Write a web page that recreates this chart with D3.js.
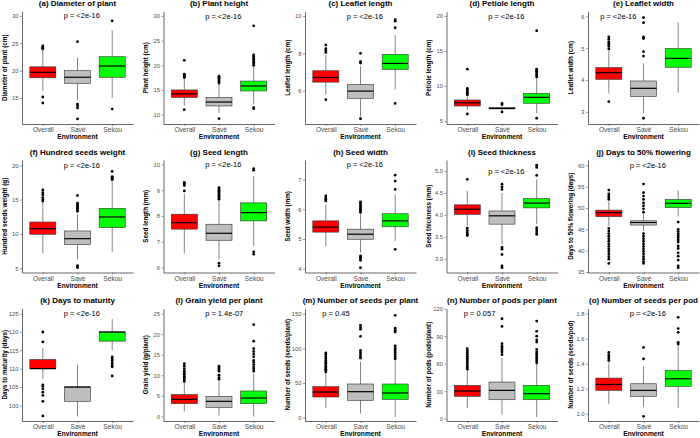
<!DOCTYPE html>
<html><head><meta charset="utf-8">
<script src="https://cdn.jsdelivr.net/npm/d3@7"></script>
<style>
html,body{margin:0;padding:0;background:#fff;}
svg{display:block;font-family:"Liberation Sans",Arial,sans-serif;}
</style></head>
<body>
<svg id="chart" width="700" height="438"></svg>
<script>
const categories = ["Overall", "Savè", "Sekou"];
const boxColors = ["#FF0000", "#BEBEBE", "#00FF00"];
const xTitle = "Environment";

const panelTitles = ["(a) Diameter of plant", "(b) Plant height", "(c) Leaflet length", "(d) Petiole length", "(e) Leaflet width",
  "(f) Hundred seeds weight", "(g) Seed length", "(h) Seed width", "(i) Seed thickness", "(j) Days to 50% flowering",
  "(k) Days to maturity", "(l) Grain yield per plant", "(m) Number of seeds per plant", "(n) Number of pods per plant", "(o) Number of seeds per pod"];

const yTitles = ["Diameter of plant (cm)", "Plant height (cm)", "Leaflet length (cm)", "Petiole length (cm)", "Leaflet width (cm)",
  "Hundred seeds weight (g)", "Seed length (mm)", "Seed width (mm)", "Seed thickness (mm)", "Days to 50% flowering (days)",
  "Days to maturity (days)", "Grain yield (g/plant)", "Number of seeds (seeds/plant)", "Number of pods (pods/plant)", "Number of seeds (seeds/pod)"];

const pTexts = ["p = <2e-16", "p = <2e-16", "p = <2e-16", "p = <2e-16", "p = <2e-16",
  "p = <2e-16", "p = <2e-16", "p = <2e-16", "p = <2e-16", "p = <2e-16",
  "p = <2e-16", "p = 1.4e-07", "p = 0.45", "p = 0.057", "p = <2e-16"];
const pLabelX = [1.6, 1.6, 1.6, 1.6, 0.75, 1.6, 1.6, 1.6, 1.6, 1.6, 1.6, 1.6, 0.9, 0.9, 1.6];
const pLabelY = [30, 30, 10, 20, 6, 20, 10, 7.5, 5, 60, 125, 25, 150, 115, 1.8];

const yTicks = [[15, 20, 25, 30], [10, 15, 20, 25, 30], [6, 8, 10], [5, 10, 15, 20], [3, 4, 5, 6],
  [5, 10, 15, 20], [6, 7, 8, 9, 10], [4, 5, 6, 7], [3.0, 3.5, 4.0, 4.5, 5.0], [35, 40, 45, 50, 55, 60],
  [100, 105, 110, 115, 120, 125], [0, 5, 10, 15, 20, 25], [0, 50, 100, 150], [0, 30, 60, 90, 120], [1.0, 1.2, 1.4, 1.6, 1.8]];
const yTickFormats = ["d", "d", "d", "d", "d", "d", "d", "d", ".1f", "d", "d", "d", "d", "d", ".1f"];
const yDomains = [[10.27, 30.8], [8.1, 30.9], [4.22, 10.24], [4.57, 20.64], [2.62, 6.15],
  [4.4, 20.76], [5.81, 10.17], [3.87, 7.66], [2.69, 5.25], [34.88, 61.25],
  [95.74, 126.4], [-1.14, 26.25], [-4.8, 157.5], [-2.5, 120.2], [0.943, 1.84]];

// [lower whisker, Q1, median, Q3, upper whisker] for Overall, Savè, Sekou
const boxStats = [
  [[16.4, 18.7, 19.7, 20.7, 23.8], [14.6, 17.7, 18.8, 20.0, 22.4], [15.0, 18.8, 20.85, 22.55, 27.4]],
  [[11.8, 13.5, 14.2, 15.0, 17.3], [10.4, 11.75, 12.55, 13.5, 16.2], [12.1, 14.8, 15.8, 16.8, 19.8]],
  [[5.8, 6.46, 6.71, 7.07, 7.9], [4.62, 5.59, 5.98, 6.34, 7.3], [6.07, 7.14, 7.46, 7.95, 8.98]],
  [[6.55, 7.14, 7.6, 8.0, 8.5], [6.55, 6.72, 6.8, 6.92, 7.1], [6.1, 7.53, 8.38, 8.95, 11.1]],
  [[3.58, 4.02, 4.23, 4.39, 4.9], [2.96, 3.48, 3.74, 3.97, 4.52], [3.6, 4.4, 4.68, 4.99, 5.8]],
  [[7.2, 9.96, 10.77, 11.74, 14.6], [6.3, 8.45, 9.32, 10.44, 12.9], [7.4, 10.92, 12.47, 13.73, 17.6]],
  [[6.55, 7.49, 7.74, 8.07, 8.85], [6.32, 7.06, 7.33, 7.68, 8.6], [6.84, 7.81, 8.13, 8.51, 9.55]],
  [[4.76, 5.23, 5.4, 5.61, 6.15], [4.54, 4.99, 5.16, 5.33, 5.85], [4.93, 5.41, 5.61, 5.85, 6.5]],
  [[3.75, 4.01, 4.13, 4.23, 4.55], [3.33, 3.79, 3.98, 4.09, 4.5], [3.79, 4.16, 4.27, 4.37, 4.81]],
  [[45.8, 47.97, 48.9, 49.5, 51.5], [44.6, 46.0, 46.6, 47.0, 48.5], [48.0, 50.1, 51.1, 52.0, 54.1]],
  [[107.3, 110, 110, 112.5, 115.6], [97, 101.1, 105, 105, 111.1], [115, 117.5, 120, 120, 123.5]],
  [[1.2, 3.08, 4.14, 5.28, 8.2], [0.2, 2.19, 3.65, 4.87, 8.6], [0, 3.08, 4.46, 6.17, 10.4]],
  [[13.9, 29.8, 37, 44.7, 64.4], [5.8, 25, 37.5, 48.6, 80.3], [1, 26.4, 35.6, 48.6, 82.7]],
  [[11.6, 24.4, 30.2, 36.4, 52.7], [4.4, 20.7, 30.9, 40, 66], [1.8, 20.7, 27.3, 36.4, 60]],
  [[1.08, 1.187, 1.234, 1.285, 1.41], [1.054, 1.14, 1.187, 1.24, 1.38], [1.046, 1.219, 1.28, 1.346, 1.544]]
];

const outliers = [
  [[24.0, 24.1, 24.2, 24.3, 24.5, 15.2, 14.1], [25.3, 13.9, 13.6, 13.2, 11.2], [29.1, 13.0]],
  [[17.5, 17.7, 17.9, 18.1, 18.2, 21.0, 11.0], [16.4, 16.7, 17.0, 17.3, 17.6, 17.8, 9.2], [20.0, 20.3, 20.6, 20.9, 21.2, 21.5, 21.8, 22.1, 28.0, 11.4, 11.2]],
  [[8.05, 8.15, 8.25, 8.45, 5.52], [7.48, 7.55, 8.0, 4.5], [9.37, 9.72, 9.8, 5.32]],
  [[8.75, 8.9, 9.1, 9.3, 9.5, 9.65, 12.4, 6.0], [7.35, 7.5, 6.3], [11.3, 11.5, 11.7, 11.9, 12.1, 12.3, 12.4, 17.9, 5.39]],
  [[4.97, 5.05, 5.1, 5.15, 5.2, 5.28, 5.35, 3.32], [4.75, 4.89, 5.3, 5.35, 5.8, 5.96, 2.8], []],
  [[14.8, 15.0, 15.3, 15.7, 16.0, 16.4], [13.3, 13.5, 13.7, 13.9, 14.1, 14.3, 14.5, 15.6, 5.4, 5.2, 5.1], [17.9, 18.0, 18.1, 18.2, 18.35, 19.1]],
  [[8.97, 9.18, 9.22, 9.27, 9.3], [8.65, 8.7, 8.75, 8.8, 8.85, 8.9, 8.95, 9.0, 9.05, 9.1, 6.17, 6.07], [9.77, 9.83, 6.61, 6.52]],
  [[6.28, 6.33, 6.38, 6.45], [5.9, 5.95, 6.0, 6.05, 6.1, 6.15, 6.2, 6.25, 4.43, 4.38, 4.33, 4.28, 4.03], [6.67, 6.95, 7.15, 4.65]],
  [[4.81, 3.7, 3.65, 3.6, 3.56, 3.53], [4.58, 4.64, 4.7, 3.26, 3.22, 3.1, 2.84, 2.8], [4.9, 5.08, 5.13, 3.71, 3.66, 3.61, 3.56]],
  [[52.0, 52.4, 52.8, 53.3, 54.2, 45.2, 44.6, 44.0, 43.4, 42.8, 42.2, 41.6, 41.0, 40.4, 39.8, 39.2, 38.6, 38.0, 37.0],
   [49.0, 49.8, 50.5, 51.2, 52.0, 52.8, 53.6, 55.6, 44.0, 43.4, 42.8, 42.2, 41.6, 41.0, 40.4, 39.8, 39.2, 38.6, 38.0, 37.4, 37.0],
   [46.7, 45.0, 44.5, 44.0, 43.5, 43.0, 42.5, 42.0, 41.1, 40.5, 39.5, 38.7, 37.8, 36.4, 36.0]],
  [[117.3, 120, 105.6, 105.2, 104.5, 103.6, 102.7, 101.1, 97.1], [], [113.2, 112.7, 112.2, 111.6, 111, 110.5, 108]],
  [[8.5, 8.9, 9.3, 9.7, 10.1, 10.5, 11.0, 11.6, 12.2, 12.8], [9.0, 9.4, 10.0, 11.0, 11.4, 11.8, 12.2], [11.0, 11.5, 12.0, 12.6, 13.2, 13.6, 14.5, 15.2, 15.8, 16.5, 18.3, 22.3]],
  [[66, 68, 70, 72, 74, 76, 78, 80, 82, 85, 88, 91, 93.3], [86, 88, 91, 94, 97, 117.3, 127.4, 130, 133.2], [85, 88, 91, 94, 97, 100, 103.4, 123.6, 126, 129, 147.6]],
  [[54, 56, 58, 60, 62, 64, 66, 68, 70, 72, 74, 76.4], [69.8, 72.7, 75, 77, 79, 81.8, 100.7, 109], [61, 63, 65, 67, 69, 71, 73, 75.6, 83.6, 86, 90, 95.3, 106.5]],
  [[1.425, 1.44, 1.455, 1.47, 1.49], [1.438, 1.53, 0.98], [1.557, 1.57, 1.65, 1.68, 1.77]]
];

// ---- layout ----
const cellW = 141.5, cellH = 148.5, gridTop = -1.5;
const pad = {left: 22, right: 133, top: 13, bottom: 125.5};
const svg = d3.select("#chart");

panelTitles.forEach((title, i) => {
  const col = i % 5, row = Math.floor(i / 5);
  const g = svg.append("g").attr("transform", `translate(${col * cellW},${gridTop + row * cellH})`);
  const x = d3.scaleLinear().domain([0.4, 3.6]).range([pad.left, pad.right]);
  const y = d3.scaleLinear().domain(yDomains[i]).range([pad.bottom, pad.top]);
  const bw = (x(1.75) - x(1));

  // title
  g.append("text").attr("x", (pad.left + pad.right) / 2).attr("y", 7.5)
    .attr("text-anchor", "middle").attr("font-size", 8).attr("font-weight", "bold").attr("fill", "#000").text(title);

  // boxes
  boxStats[i].forEach((s, k) => {
    const cx = x(k + 1);
    const bg = g.append("g");
    bg.append("line").attr("x1", cx).attr("x2", cx).attr("y1", y(s[4])).attr("y2", y(s[3]))
      .attr("stroke", "#333").attr("stroke-width", 0.6);
    bg.append("line").attr("x1", cx).attr("x2", cx).attr("y1", y(s[1])).attr("y2", y(s[0]))
      .attr("stroke", "#333").attr("stroke-width", 0.6);
    bg.append("rect").attr("x", cx - bw / 2).attr("width", bw)
      .attr("y", y(s[3])).attr("height", Math.max(0.5, y(s[1]) - y(s[3])))
      .attr("fill", boxColors[k]).attr("stroke", "#333").attr("stroke-width", 0.6);
    bg.append("line").attr("x1", cx - bw / 2).attr("x2", cx + bw / 2).attr("y1", y(s[2])).attr("y2", y(s[2]))
      .attr("stroke", "#000").attr("stroke-width", 1.2);
    bg.selectAll("circle").data(outliers[i][k]).join("circle")
      .attr("cx", cx).attr("cy", d => y(d)).attr("r", 1.4).attr("fill", "#000");
  });

  // p label
  g.append("text").attr("x", x(pLabelX[i])).attr("y", y(pLabelY[i]) + 2.6)
    .attr("font-size", 7.5).attr("fill", "black").text(pTexts[i]);

  // axes
  const yAxis = d3.axisLeft(y).tickValues(yTicks[i]).tickFormat(d3.format(yTickFormats[i])).tickSize(2).tickPadding(1.5).tickSizeOuter(0);
  const ya = g.append("g").attr("transform", `translate(${pad.left},0)`).call(yAxis);
  ya.select(".domain").attr("stroke", "#000").attr("stroke-width", 0.6);
  ya.selectAll(".tick line").attr("stroke", "#333").attr("stroke-width", 0.5);
  ya.selectAll(".tick text").attr("font-size", 5.8).attr("fill", "#4D4D4D").attr("font-family", "Liberation Sans, Arial, sans-serif");

  const xAxis = d3.axisBottom(x).tickValues([1, 2, 3]).tickFormat(d => categories[d - 1]).tickSize(2).tickPadding(1.5).tickSizeOuter(0);
  const xa = g.append("g").attr("transform", `translate(0,${pad.bottom})`).call(xAxis);
  xa.select(".domain").attr("stroke", "#000").attr("stroke-width", 0.6);
  xa.selectAll(".tick line").attr("stroke", "#333").attr("stroke-width", 0.5);
  xa.selectAll(".tick text").attr("font-size", 6.6).attr("fill", "#4D4D4D").attr("font-family", "Liberation Sans, Arial, sans-serif");

  g.append("text").attr("x", (pad.left + pad.right) / 2).attr("y", pad.bottom + 15)
    .attr("text-anchor", "middle").attr("font-size", 6.6).attr("font-weight", "bold").attr("fill", "#000").text(xTitle);

  g.append("text").attr("transform", `translate(6.5,${(pad.top + pad.bottom) / 2}) rotate(-90)`)
    .attr("text-anchor", "middle").attr("font-size", 6.3).attr("font-weight", "bold").attr("fill", "#000").text(yTitles[i]);
});
</script>
</body></html>
